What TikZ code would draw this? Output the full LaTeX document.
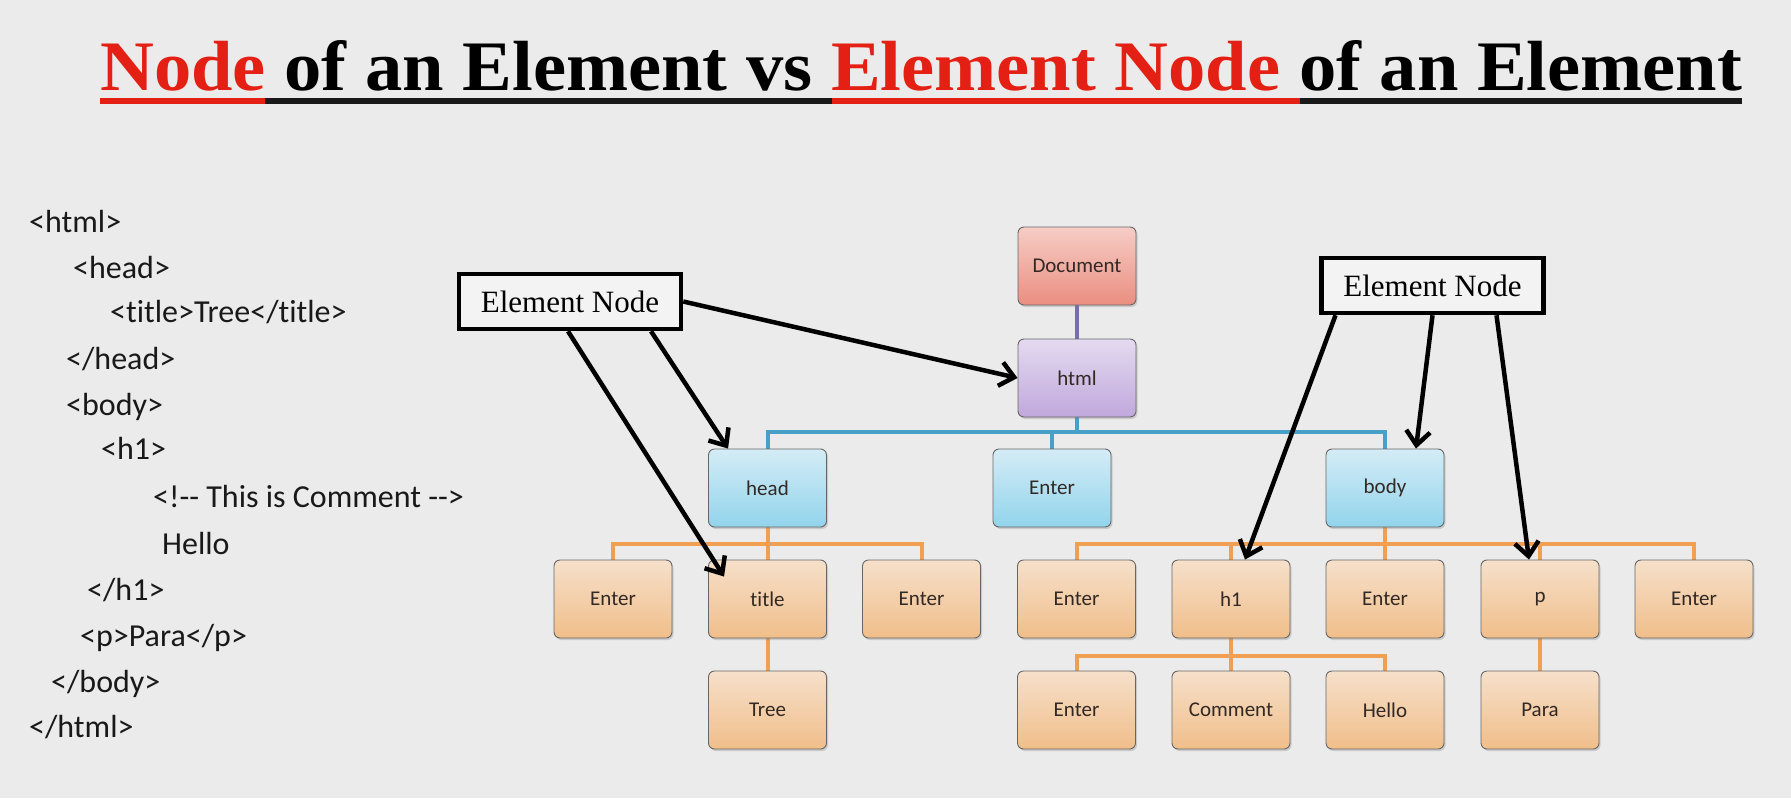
\documentclass[tikz,border=0pt]{standalone}
\usepackage{fontspec}
\setmainfont{Liberation Serif}
\newfontfamily\calfont[Ligatures=NoCommon]{Carlito}
\usetikzlibrary{arrows.meta,shadows,calc}
\pgfdeclarelayer{back}
\pgfdeclarelayer{lines}
\pgfsetlayers{back,lines,main}
\definecolor{bgc}{RGB}{235,235,235}
\definecolor{titred}{RGB}{228,32,20}
\definecolor{docA}{RGB}{246,205,198}
\definecolor{docB}{RGB}{234,142,128}
\definecolor{htmA}{RGB}{228,218,240}
\definecolor{htmB}{RGB}{192,168,220}
\definecolor{bluA}{RGB}{212,236,246}
\definecolor{bluB}{RGB}{146,212,236}
\definecolor{orgA}{RGB}{246,224,202}
\definecolor{orgB}{RGB}{240,190,138}
\definecolor{bline}{RGB}{70,160,200}
\definecolor{oline}{RGB}{240,160,80}
\definecolor{pline}{RGB}{120,110,170}
\definecolor{boxtext}{RGB}{50,40,36}
\begin{document}
\begin{tikzpicture}[x=1pt,y=-1pt,
  box/.style={draw=black!60, line width=0.9pt, rounded corners=6pt,
    minimum width=118pt, minimum height=78pt, inner sep=0pt,
    font=\calfont\fontsize{21}{25}\selectfont, text=boxtext,
    drop shadow={shadow xshift=1.5pt,shadow yshift=-2pt,opacity=0.3}},
  docbox/.style={box, top color=docA, bottom color=docB},
  htmbox/.style={box, top color=htmA, bottom color=htmB},
  blubox/.style={box, top color=bluA, bottom color=bluB},
  orgbox/.style={box, top color=orgA, bottom color=orgB},
  codetext/.style={anchor=base west, inner sep=0pt, font=\calfont\fontsize{32}{38}\selectfont, text=black!90},
  callout/.style={draw=black, line width=4.5pt, fill=bgc!60!white, minimum width=222pt, minimum height=55pt,
    inner sep=0pt, font=\fontsize{31}{36}\selectfont},
  treeB/.style={draw=bline, line width=4pt, line join=miter},
  treeO/.style={draw=oline, line width=4pt, line join=miter},
  treeP/.style={draw=pline, line width=4pt},
  pointer/.style={draw=black, line width=4.5pt, -{Straight Barb[length=14pt,width=24pt,line width=4.5pt]}}
]
\begin{pgfonlayer}{back}
\fill[bgc] (0,0) rectangle (1791,798);
\end{pgfonlayer}
\useasboundingbox (0,0) rectangle (1791,798);

% title
\node[anchor=base west, inner sep=0pt] (title) at (100,90)
  {\resizebox{1642pt}{50pt}{\bfseries\textcolor{titred}{Node} of an Element vs \textcolor{titred}{Element Node} of an Element}};
\fill[titred] (100,98) rectangle (265,104);
\fill[black!90] (265,98) rectangle (832,104);
\fill[titred] (832,98) rectangle (1300,104);
\fill[black!90] (1300,98) rectangle (1742,104);

% code
\node[codetext] (c1) at (29,232) {<html>};
\node[codetext] (c2) at (73,278) {<head>};
\node[codetext] (c3) at (110,322) {<title>Tree</title>};
\node[codetext] (c4) at (66,369) {</head>};
\node[codetext] (c5) at (66,415) {<body>};
\node[codetext] (c6) at (101,459) {<h1>};
\node[codetext] (c7) at (153,507) {<!-{}- This is Comment -{}->};
\node[codetext] (c8) at (162,554) {Hello};
\node[codetext] (c9) at (87,600) {</h1>};
\node[codetext] (c10) at (80,646) {<p>Para</p>};
\node[codetext] (c11) at (51,692) {</body>};
\node[codetext] (c12) at (29,737) {</html>};

% tree boxes
\node[docbox] (doc) at (1077,266) {Document};
\node[htmbox] (html) at (1077,378) {html};
\node[blubox] (head) at (767.5,488) {head};
\node[blubox] (ent0) at (1052,488) {Enter};
\node[blubox] (body) at (1385,488) {body};
\node[orgbox] (e1) at (613,599) {Enter};
\node[orgbox] (ttl) at (767.5,599) {title};
\node[orgbox] (e2) at (921.5,599) {Enter};
\node[orgbox] (e3) at (1076.5,599) {Enter};
\node[orgbox] (h1) at (1231,599) {h1};
\node[orgbox] (e4) at (1385,599) {Enter};
\node[orgbox] (p) at (1540,599) {p};
\node[orgbox] (e5) at (1694,599) {Enter};
\node[orgbox] (tree) at (767.5,710) {Tree};
\node[orgbox] (e6) at (1076.5,710) {Enter};
\node[orgbox] (cmt) at (1231,710) {Comment};
\node[orgbox] (hello) at (1385,710) {Hello};
\node[orgbox] (para) at (1540,710) {Para};

\coordinate (bb) at (1077,432);
\coordinate (hb) at (767.5,544);
\coordinate (bdb) at (1385,544);
\coordinate (hh) at (1231,656);

\begin{pgfonlayer}{lines}
\draw[treeP] (doc.south) -- (html.north);
\draw[treeB] (html.south) -- (bb);
\draw[treeB] (head.north) |- (bb);
\draw[treeB] (body.north) |- (bb);
\draw[treeB] (ent0.north) -- (ent0.north |- bb);
\draw[treeO] (head.south) -- (hb);
\draw[treeO] (e1.north) |- (hb);
\draw[treeO] (e2.north) |- (hb);
\draw[treeO] (ttl.north) -- (hb);
\draw[treeO] (ttl.south) -- (tree.north);
\draw[treeO] (body.south) -- (bdb);
\draw[treeO] (e3.north) |- (bdb);
\draw[treeO] (e5.north) |- (bdb);
\draw[treeO] (h1.north) -- (h1.north |- bdb);
\draw[treeO] (p.north) -- (p.north |- bdb);
\draw[treeO] (e4.north) -- (bdb);
\draw[treeO] (h1.south) -- (hh);
\draw[treeO] (e6.north) |- (hh);
\draw[treeO] (hello.north) |- (hh);
\draw[treeO] (cmt.north) -- (hh);
\draw[treeO] (p.south) -- (para.north);
\end{pgfonlayer}

% callouts
\node[callout] (en1) at (570,301.5) {Element Node};
\node[callout] (en2) at (1432.5,285.5) {Element Node};

\draw[pointer] (en1.east) -- (html.west);
\draw[pointer] ($(en1.south)+(81,0)$) -- ($(head.north west)+(20,0)$);
\draw[pointer] ($(en1.south)+(-2,0)$) -- ($(ttl.north west)+(16,17)$);
\draw[pointer] ($(en2.south)+(-97,0)$) -- ($(h1.north)+(14,0)$);
\draw[pointer] (en2.south) -- ($(body.north)+(31,0)$);
\draw[pointer] ($(en2.south)+(64,0)$) -- ($(p.north)+(-11,0)$);
\end{tikzpicture}
\end{document}
